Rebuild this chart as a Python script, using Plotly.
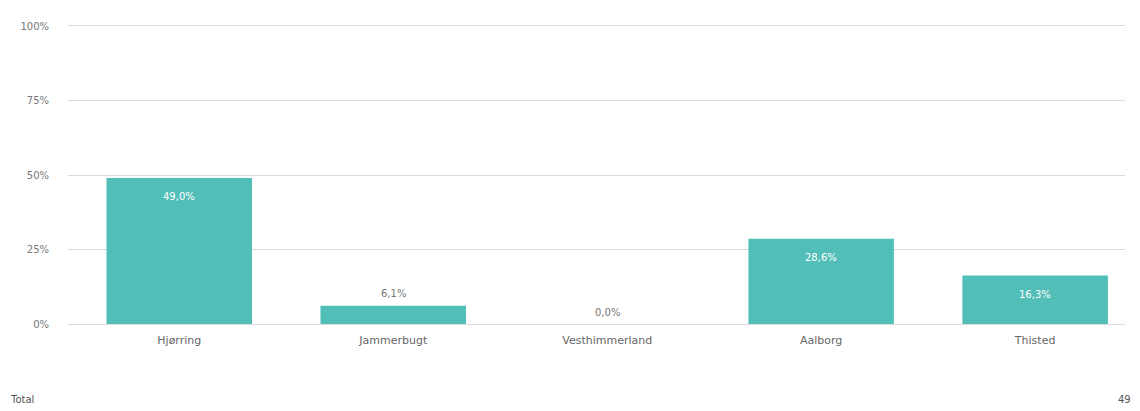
import plotly.graph_objects as go

categories = ["Hjørring", "Jammerbugt", "Vesthimmerland", "Aalborg", "Thisted"]
values = [49.0, 6.1, 0.0, 28.6, 16.3]
tick_vals = [0, 25, 50, 75, 100]
tick_text = ["0%", "25%", "50%", "75%", "100%"]
total_label = "Total"
total_n = 49

BAR = "#52BEB8"
GRAY = "#777777"
GRID = "#DADADA"
FONT = "DejaVu Sans"

fig = go.Figure()
fig.add_trace(go.Bar(
    x=categories, y=values, marker=dict(color=BAR, line=dict(width=0)),
    width=0.68, hoverinfo="skip",
))

for c, v in zip(categories, values):
    inside = v > 10
    fig.add_annotation(
        x=c, y=v, xref="x", yref="y",
        text=f"{v:.1f}%".replace(".", ","),
        showarrow=False,
        yshift=-19 if inside else 12,
        font=dict(family=FONT, size=10, color="white" if inside else GRAY),
    )

fig.add_annotation(x=-0.0568, y=-0.253, xref="paper", yref="paper",
                   xanchor="left", yanchor="middle",
                   text=total_label, showarrow=False,
                   font=dict(family=FONT, size=10, color="#555555"))
fig.add_annotation(x=1.0076, y=-0.253, xref="paper", yref="paper",
                   xanchor="right", yanchor="middle",
                   text=str(total_n), showarrow=False,
                   font=dict(family=FONT, size=10, color="#555555"))

fig.update_layout(
    width=1132, height=403,
    margin=dict(l=60, r=15, t=12, b=87),
    plot_bgcolor="white", paper_bgcolor="white",
    showlegend=False,
    font=dict(family=FONT, size=11, color=GRAY),
    xaxis=dict(range=[-0.52, 4.42], showgrid=False, zeroline=False,
               showline=True, mirror=True, linecolor=GRID, linewidth=1,
               ticks="", ticklabelstandoff=6,
               tickfont=dict(family=FONT, size=11, color="#666666")),
    yaxis=dict(range=[0, 100], tickvals=tick_vals, ticktext=tick_text,
               showgrid=True, gridcolor=GRID, gridwidth=1,
               zeroline=True, zerolinecolor="#CFCFCF", zerolinewidth=1,
               showline=False, ticks="", ticklabelstandoff=18,
               tickfont=dict(family=FONT, size=10, color=GRAY)),
)

fig.write_html("out.html")
